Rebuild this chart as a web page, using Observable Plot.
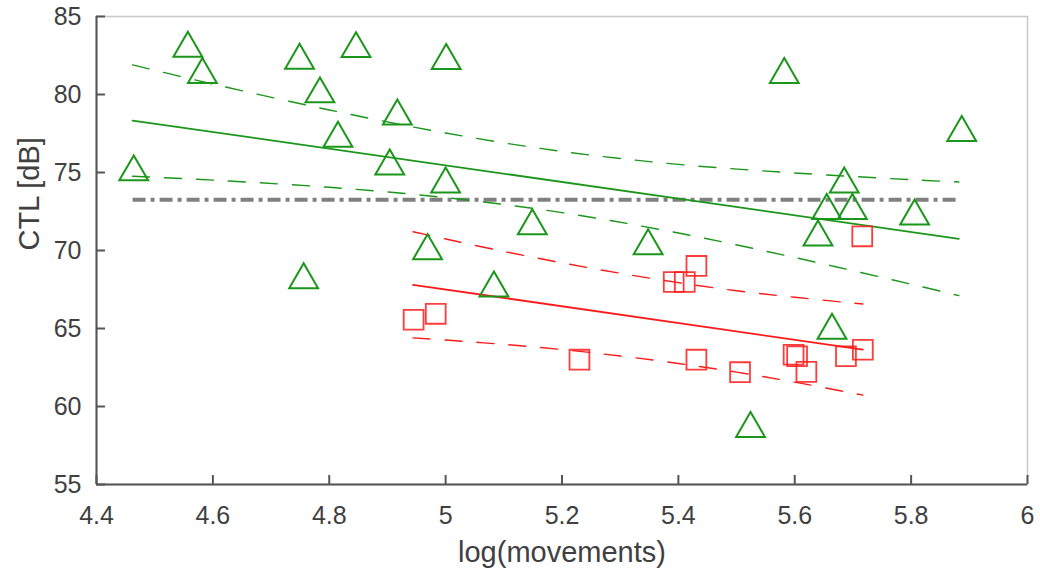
<!DOCTYPE html>
<html>
<head>
<meta charset="utf-8">
<script src="https://cdn.jsdelivr.net/npm/d3@7"></script>
<script src="https://cdn.jsdelivr.net/npm/@observablehq/plot@0.6"></script>
<style>
  html, body { margin: 0; padding: 0; background: #fff; }
  #chart svg { display: block; }
</style>
</head>
<body>
<div id="chart"></div>
<script>
// ---- data ----
const triX = [4.464, 4.557, 4.582, 4.749, 4.846, 5.001, 4.784, 4.917, 4.815, 4.904, 5.000, 4.756, 4.969, 5.083, 5.149, 5.348, 5.640, 5.664, 5.524, 5.582, 5.887, 5.685, 5.655, 5.699, 5.806];
const triY = [75.03, 82.96, 81.27, 82.18, 82.93, 82.17, 80.03, 78.61, 77.19, 75.40, 74.25, 68.11, 69.98, 67.59, 71.57, 70.30, 70.85, 64.88, 58.58, 81.27, 77.56, 74.25, 72.56, 72.56, 72.20];

const sqX = [4.945, 4.983, 5.230, 5.392, 5.411, 5.431, 5.431, 5.506, 5.598, 5.604, 5.620, 5.688, 5.717, 5.716];
const sqY = [65.56, 65.94, 63.00, 67.98, 67.98, 69.01, 63.00, 62.20, 63.32, 63.22, 62.22, 63.22, 63.64, 70.91];

const greenFitX = [4.462, 5.882];
const greenFitY = [78.33, 70.75];
const greenCIX = [4.462, 4.6, 4.8, 5.0, 5.2, 5.4, 5.6, 5.8, 5.882];
const greenUpper = [81.90, 80.67, 79.01, 77.53, 76.35, 75.52, 74.97, 74.54, 74.39];
const greenLower = [74.76, 74.51, 74.05, 73.39, 72.43, 71.12, 69.55, 67.84, 67.11];

const redFitX = [4.944, 5.717];
const redFitY = [67.80, 63.65];
const redCIX = [4.944, 5.0, 5.1, 5.2, 5.3, 5.4, 5.5, 5.6, 5.717];
const redUpper = [71.20, 70.74, 69.94, 69.21, 68.54, 67.94, 67.42, 67.00, 66.57];
const redLower = [64.40, 64.26, 63.98, 63.65, 63.24, 62.76, 62.20, 61.56, 60.73];

const meanX = [4.462, 5.882];
const meanY = [73.25, 73.25];

const xTicks = [4.4, 4.6, 4.8, 5.0, 5.2, 5.4, 5.6, 5.8, 6.0];
const xTickLabels = ["4.4", "4.6", "4.8", "5", "5.2", "5.4", "5.6", "5.8", "6"];
const yTicks = [55, 60, 65, 70, 75, 80, 85];
const yTickLabels = ["55", "60", "65", "70", "75", "80", "85"];
const xLabel = "log(movements)";
const yLabel = "CTL [dB]";

// ---- tables built from the arrays ----
const zip = (xs, ys) => xs.map((x, i) => ({x, y: ys[i]}));
const tri = zip(triX, triY);
const sq = zip(sqX, sqY);

const GREEN = "#1a961a";
const RED = "#ff1a1a";
const TEXT = "#404040";
const AXIS = "#555555";

const chart = Plot.plot({
  width: 1040,
  height: 580,
  marginLeft: 96,
  marginRight: 13,
  marginTop: 16,
  marginBottom: 96,
  x: {domain: [4.4, 6]},
  y: {domain: [55, 85]},
  style: {fontFamily: "'Liberation Sans', Arial, sans-serif", background: "#ffffff", color: TEXT},
  marks: [
    Plot.frame({stroke: "#c8c8c8", strokeWidth: 1.5}),
    // mean (dash-dot)
    Plot.line(zip(meanX, meanY), {x: "x", y: "y", stroke: "#808080", strokeWidth: 4, strokeDasharray: "13,5,4,5", strokeLinecap: "butt"}),
    // green regression and band
    Plot.line(zip(greenCIX, greenUpper), {x: "x", y: "y", stroke: GREEN, strokeWidth: 1.4, strokeDasharray: "17,15", curve: "catmull-rom"}),
    Plot.line(zip(greenCIX, greenLower), {x: "x", y: "y", stroke: GREEN, strokeWidth: 1.4, strokeDasharray: "17,15", curve: "catmull-rom"}),
    Plot.line(zip(greenFitX, greenFitY), {x: "x", y: "y", stroke: GREEN, strokeWidth: 1.8}),
    // red regression and band
    Plot.line(zip(redCIX, redUpper), {x: "x", y: "y", stroke: RED, strokeWidth: 1.4, strokeDasharray: "17,15", curve: "catmull-rom"}),
    Plot.line(zip(redCIX, redLower), {x: "x", y: "y", stroke: RED, strokeWidth: 1.4, strokeDasharray: "17,15", curve: "catmull-rom"}),
    Plot.line(zip(redFitX, redFitY), {x: "x", y: "y", stroke: RED, strokeWidth: 1.8}),
    // markers
    Plot.dot(tri, {x: "x", y: "y", symbol: "triangle", r: 10.7, stroke: GREEN, strokeWidth: 2, fill: "none"}),
    Plot.dot(sq, {x: "x", y: "y", symbol: "square", r: 11.2, stroke: RED, strokeWidth: 1.8, fill: "none", strokeOpacity: 0.85}),
    // axis lines
    Plot.ruleY([55], {stroke: AXIS, strokeWidth: 2}),
    Plot.ruleX([4.4], {stroke: AXIS, strokeWidth: 2}),
    // inward ticks
    Plot.axisX(xTicks, {tickSize: 9, dy: -9, fill: "none", stroke: AXIS, strokeWidth: 2, label: null}),
    Plot.axisY(yTicks, {tickSize: 9, dx: 9, fill: "none", stroke: AXIS, strokeWidth: 2, label: null}),
    // tick labels
    Plot.axisX(xTicks, {tickSize: 0, tickPadding: 22, fontSize: 25, fill: TEXT, label: null,
      tickFormat: d => xTickLabels[xTicks.indexOf(d)]}),
    Plot.axisY(yTicks, {tickSize: 0, tickPadding: 15, fontSize: 25, fill: TEXT, label: null,
      tickFormat: d => yTickLabels[yTicks.indexOf(d)]}),
    // axis titles
    Plot.text([xLabel], {text: d => d, frameAnchor: "bottom", dy: 68, fontSize: 29, fill: TEXT, lineAnchor: "middle"}),
    Plot.text([yLabel], {text: d => d, frameAnchor: "left", dx: -67, rotate: -90, fontSize: 29, fill: TEXT, lineAnchor: "middle"})
  ]
});
document.getElementById("chart").appendChild(chart);
</script>
</body>
</html>
